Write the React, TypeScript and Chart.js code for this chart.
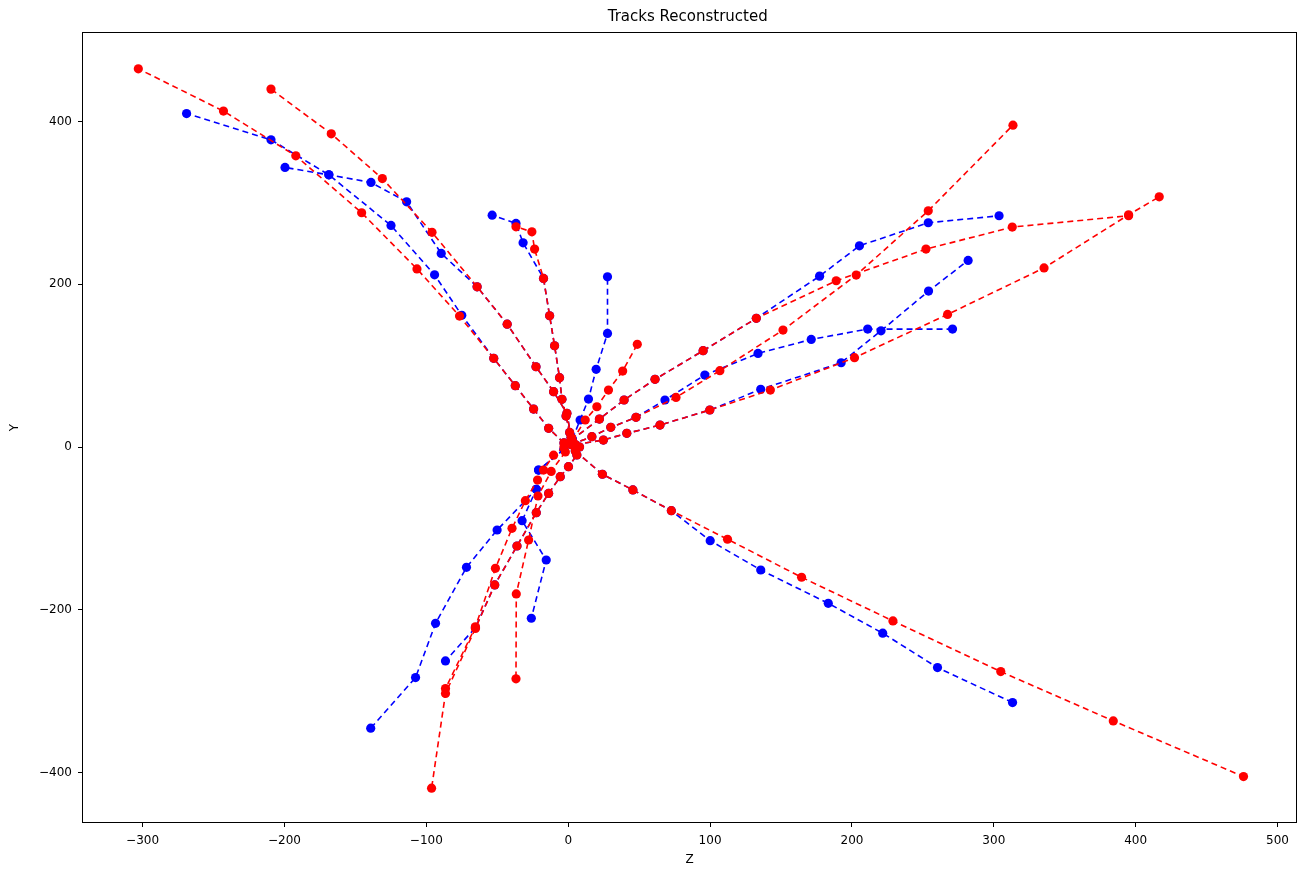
import React, { useEffect, useRef } from "react";
import { Chart, registerables } from "chart.js";

Chart.register(...registerables);

// ---- Data (Z, Y) ----
// Reconstructed tracks (red)
const redTrack1 = [[-3, 5], [-13.8, 23], [-24.4, 46.7], [-37.3, 75.4], [-52.5, 109], [-76.6, 161], [-106.6, 219], [-145.6, 288], [-192, 358], [-243, 413], [-303, 465]];
const redTrack2 = [[2, 12], [-0.9, 41.4], [-10.3, 68], [-22.7, 98.7], [-43, 151], [-64.2, 197], [-96, 264], [-131, 330], [-167, 385], [-209.5, 440]];
const redTrack3 = [[1, 18], [-1.5, 38], [-4.4, 58.6], [-6.1, 85.2], [-9.6, 124.5], [-13.1, 161.4], [-17.4, 207.3], [-23.7, 243.3], [-25.6, 264.6], [-36.8, 270.7]];
const redTrack4 = [[3, 8], [12, 33.2], [20.2, 49.5], [28.4, 70], [38.4, 93.4], [48.7, 126.2]];
const redTrack5 = [[2, 3], [16.7, 12.7], [30, 24.2], [47.8, 36.5], [76, 61], [106.9, 93.8], [151.4, 143.8], [203, 211.4], [253.8, 290.4], [313.5, 395.7]];
const redTrack6 = [[2, 8], [22, 34.4], [39.4, 57.8], [61.2, 83.2], [95.1, 118.4], [132.6, 158.2], [188.9, 204.4], [252.2, 243.3], [313, 270.4], [395, 284.3]];
const redTrack7 = [[5, 3], [24.8, 8.6], [41.3, 16.8], [64.7, 27], [99.8, 45.5], [142.5, 70], [201.8, 109.8], [267.4, 163], [335.4, 220.2], [395, 285.5], [416.6, 307.6]];
const redTrack8 = [[5, -5], [24.1, -33.5], [45.6, -52.8], [72.7, -78.3], [112.3, -113.4], [164.5, -160.1], [228.9, -213.8], [304.9, -276.1], [384.2, -336.7], [476, -405.2]];
const redTrack9 = [[8, 0], [6.1, -9.8], [0.2, -24.2], [-5.6, -36.5], [-13.8, -57], [-22.5, -80.7], [-36.1, -121.7], [-51.8, -169.6], [-65.4, -223], [-86.5, -303], [-96.3, -419.4]];
const redTrack10 = [[-3, 0], [-10.3, -10], [-17.4, -28.3], [-21.6, -40.6], [-30.2, -66], [-39.6, -100], [-51.3, -149.1], [-65.4, -221], [-86.5, -297]];
const redTrack11 = [[-2, -6], [-12, -30], [-21.3, -60.2], [-27.9, -114.3], [-36.6, -180.6], [-36.8, -285]];

// True tracks (blue)
const blueTrack1 = [[-3, 5], [-13.8, 23], [-24.4, 46.7], [-37.3, 75.4], [-52.5, 109], [-75, 162], [-94.2, 211.7], [-124.9, 272.4], [-168.7, 334.6], [-209.5, 377.7], [-269, 410]];
const blueTrack2 = [[2, 12], [-0.9, 41.4], [-10.3, 68], [-22.7, 98.7], [-43, 151], [-64.2, 197], [-89.5, 238], [-113.9, 301.4], [-139, 325.3], [-168.7, 334.6], [-199.6, 343.7]];
const blueTrack3 = [[1, 18], [-1.5, 38], [-4.4, 58.6], [-6.1, 85.2], [-9.6, 124.5], [-13.1, 161.4], [-17.4, 207.3], [-31.8, 251], [-36.8, 274.9], [-53.6, 285]];
const blueTrack4 = [[3, 10], [8.4, 33.2], [14.3, 59], [19.7, 95.5], [27.7, 139.7], [27.7, 209.3]];
const blueTrack5 = [[2, 3], [16.7, 12.7], [30, 24.2], [47.8, 36.5], [68.2, 57.8], [96.3, 88.5], [133.8, 115.1], [171.3, 132.3], [211.1, 145], [270.9, 145]];
const blueTrack6 = [[2, 8], [22, 34.4], [39.4, 57.8], [61.2, 83.2], [95.1, 118.4], [132.6, 158.2], [177.2, 210.1], [205.3, 247.4], [253.8, 275.7], [303.7, 284.3]];
const blueTrack7 = [[5, 3], [24.8, 8.6], [41.3, 16.8], [64.7, 27], [99.8, 45.5], [135.7, 70.9], [192.4, 103.6], [220.5, 142.9], [254, 191.7], [281.9, 229.4]];
const blueTrack8 = [[5, -5], [24.1, -33.5], [45.6, -52.8], [72.7, -78.3], [100.1, -115.1], [135.7, -151.2], [183.3, -192.1], [221.7, -228.9], [260.3, -271.2], [313.2, -314.2]];
const blueTrack9 = [[8, 0], [6.1, -9.8], [0.2, -24.2], [-5.6, -36.5], [-13.8, -57], [-22.5, -80.7], [-36.1, -121.7], [-51.8, -169.6], [-65.4, -222], [-86.5, -263]];
const blueTrack10 = [[-3, -3], [-20.9, -28.3], [-22.5, -52], [-50.1, -102], [-71.7, -147.9], [-93.5, -216.7], [-107.6, -283.5], [-139.2, -345.7]];
const blueTrack11 = [[-3, -3], [-20.9, -28.3], [-22.5, -52], [-32.5, -90.6], [-15.5, -138.9], [-26, -210.5]];

const redTracks = [redTrack1, redTrack2, redTrack3, redTrack4, redTrack5, redTrack6, redTrack7, redTrack8, redTrack9, redTrack10, redTrack11];
const blueTracks = [blueTrack1, blueTrack2, blueTrack3, blueTrack4, blueTrack5, blueTrack6, blueTrack7, blueTrack8, blueTrack9, blueTrack10, blueTrack11];

const xTickValues = [-300, -200, -100, 0, 100, 200, 300, 400, 500];
const yTickValues = [-400, -200, 0, 200, 400];
const titleText = "Tracks Reconstructed";
const xLabel = "Z";
const yLabel = "Y";

const FONT = "'DejaVu Sans', sans-serif";
const AREA_RIGHT = 1296;

// Extend the plot area to the right edge (the reference axes run to the image edge).
const widenPlugin = {
  id: "widen",
  afterLayout(chart: any) {
    const a = chart.chartArea;
    a.right = AREA_RIGHT;
    a.width = a.right - a.left;
    const xs = chart.scales.x;
    xs.right = AREA_RIGHT;
    xs.width = AREA_RIGHT - xs.left;
    xs.configure();
  },
};

const framePlugin = {
  id: "frame",
  afterDraw(chart: any) {
    const { ctx, chartArea: a } = chart;
    ctx.save();
    ctx.strokeStyle = "#000";
    ctx.lineWidth = 1;
    ctx.strokeRect(Math.round(a.left) - 0.5, Math.round(a.top) - 0.5, Math.round(a.right - a.left) + 1, Math.round(a.bottom - a.top) + 1);
    ctx.restore();
  },
};

const fmt = (v: any) => String(v).replace("-", "\u2212");

export default function App() {
  const ref = useRef<HTMLCanvasElement | null>(null);
  useEffect(() => {
    document.body.style.margin = "0";
    const mk = (pts: number[][], color: string, order: number) => ({
      data: pts.map(([x, y]) => ({ x, y })),
      showLine: true,
      borderColor: color,
      backgroundColor: color,
      pointBackgroundColor: color,
      pointBorderColor: color,
      pointBorderWidth: 0,
      pointRadius: 4.6,
      borderWidth: 1.6,
      borderDash: [6, 4],
      order,
    });
    const datasets = [
      ...redTracks.map((t) => mk(t, "#ff0000", 0)),
      ...blueTracks.map((t) => mk(t, "#0000ff", 1)),
    ];
    const tickGrid = {
      display: true,
      drawOnChartArea: false,
      drawTicks: true,
      tickLength: 5,
      color: "#000",
      lineWidth: 1,
    };
    const chart = new Chart(ref.current as HTMLCanvasElement, {
      type: "scatter",
      data: { datasets: datasets as any },
      options: {
        animation: false,
        responsive: false,
        devicePixelRatio: 1,
        layout: { padding: { top: 0, right: 1, bottom: 0, left: 0 } },
        plugins: {
          legend: { display: false },
          tooltip: { enabled: false },
          title: {
            display: true,
            text: titleText,
            fullSize: false,
            color: "#000",
            font: { family: FONT, size: 15, weight: "normal" as any, lineHeight: 1.2 },
            padding: { top: 8, bottom: 7 },
          },
        },
        scales: {
          x: {
            type: "linear",
            min: -342,
            max: 513,
            grid: tickGrid as any,
            border: { display: false },
            afterBuildTicks: (s: any) => {
              s.ticks = xTickValues.map((value) => ({ value }));
            },
            ticks: {
              color: "#000",
              padding: 7,
              maxRotation: 0,
              autoSkip: false,
              font: { family: FONT, size: 12 },
              callback: (v: any) => fmt(v),
            },
            title: {
              display: true,
              text: xLabel,
              color: "#000",
              font: { family: FONT, size: 12 },
              padding: { top: 0, bottom: 3 },
            },
            afterFit: (s: any) => {
              s.height = 48;
              s.paddingLeft = 0;
              s.paddingRight = 0;
            },
          },
          y: {
            type: "linear",
            min: -461,
            max: 509,
            grid: tickGrid as any,
            border: { display: false },
            afterBuildTicks: (s: any) => {
              s.ticks = yTickValues.map((value) => ({ value }));
            },
            ticks: {
              color: "#000",
              padding: 6,
              autoSkip: false,
              font: { family: FONT, size: 12 },
              callback: (v: any) => fmt(v),
            },
            title: {
              display: true,
              text: yLabel,
              color: "#000",
              font: { family: FONT, size: 12 },
              padding: { top: 8, bottom: 0 },
            },
            afterFit: (s: any) => {
              s.width = 83;
              s.paddingTop = 0;
              s.paddingBottom = 0;
            },
          },
        },
      },
      plugins: [widenPlugin, framePlugin],
    });
    return () => chart.destroy();
  }, []);
  return (
    <div style={{ width: 1297, height: 870 }}>
      <canvas ref={ref} width={1297} height={870} style={{ display: "block" }} />
    </div>
  );
}
